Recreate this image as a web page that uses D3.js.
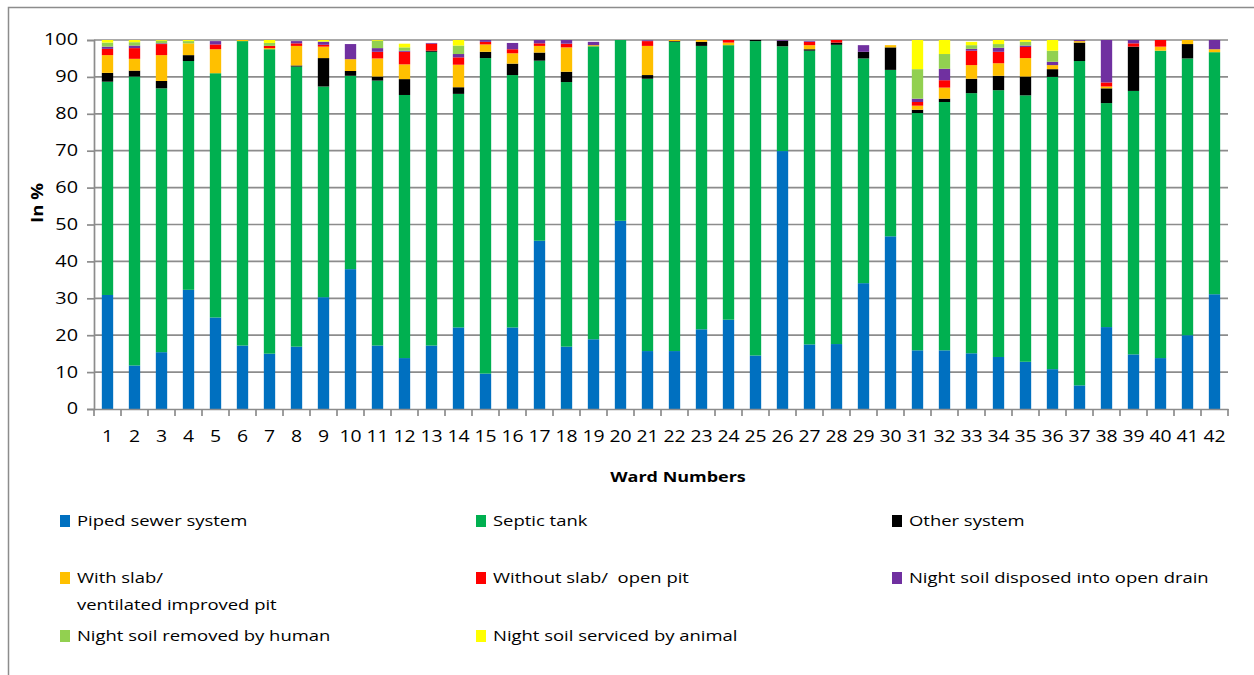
<!DOCTYPE html>
<html>
<head>
<meta charset="utf-8">
<script src="https://cdn.jsdelivr.net/npm/d3@7"></script>
<style>
  body { margin: 0; background: #fff; }
  svg { display: block; }
  text { font-family: "Open Sans", "DejaVu Sans", sans-serif; fill: #000; white-space: pre; }
</style>
</head>
<body>
<svg id="chart" width="1254" height="675"></svg>
<script>
// Ward numbers (x categories)
const wards = ["1","2","3","4","5","6","7","8","9","10","11","12","13","14","15","16","17","18","19","20","21",
               "22","23","24","25","26","27","28","29","30","31","32","33","34","35","36","37","38","39","40","41","42"];

// Share of households by type of latrine / sanitation, in %
const pipedSewer = [30.9,11.8,15.4,32.3,24.8,17.2,15.0,16.9,30.3,37.9,17.2,13.8,17.2,22.1,9.6,22.1,45.6,16.9,18.9,51.0,15.7,
                    15.7,21.6,24.2,14.5,69.9,17.5,17.6,34.1,46.8,15.9,15.9,15.1,14.1,12.8,10.8,6.4,22.2,14.8,13.8,20.0,31.1];
const septicTank = [57.8,78.3,71.5,62.0,66.2,82.5,82.5,75.9,57.1,52.4,71.8,71.3,79.6,63.3,85.5,68.4,48.8,71.7,79.4,49.0,73.8,
                    83.8,76.8,74.4,85.2,28.4,79.6,81.1,60.9,45.1,64.3,67.3,70.5,72.3,72.2,79.2,87.9,60.7,71.4,83.3,75.0,65.6];
const otherSystem = [2.4,1.6,2.0,1.6,0,0,0,0.3,7.7,1.3,1.1,4.3,0.3,1.8,1.7,3.1,2.2,2.8,0,0,1.0,
                     0.2,1.1,0,0.3,1.5,0.4,0.6,1.8,6.1,0.9,0.9,3.9,3.9,5.1,2.1,5.0,4.0,12.0,0,3.9,0];
const withSlab = [4.8,3.2,7.0,3.2,6.5,0.3,0.3,5.3,3.1,3.2,4.9,4.0,0,6.1,2.0,2.8,1.8,6.6,0.3,0,7.9,
                  0.3,0.5,0.7,0,0,1.1,0,0,0.6,1.1,3.0,3.7,3.4,5.0,1.1,0.4,0.5,0,1.1,1.1,0.8];
const openPit = [1.7,2.9,3.0,0,1.3,0,0.6,0.7,0.5,0,1.8,3.4,1.9,2.0,0.7,1.1,0.7,1.0,0,0,1.3,
                 0,0,0.7,0,0,0.9,0.7,0,0,1.0,2.0,3.9,3.1,3.0,0,0,1.1,0.9,1.8,0,0];
const openDrain = [0.6,0.7,0.2,0,0.9,0,0,0.6,0.8,4.1,1.0,0.3,0.2,0.9,0.5,1.7,0.9,1.0,0.9,0,0.2,
                   0,0,0,0,0.2,0.2,0,1.8,0,0.9,3.1,0.5,1.1,0.4,0.9,0.3,11.5,0.9,0,0,2.5];
const removedByHuman = [1.1,0.9,0.7,0.6,0,0,0.8,0,0.1,0,2.0,0.9,0,2.3,0,0,0,0,0,0,0,
                        0,0,0,0,0,0,0,0,0,8.0,4.0,1.0,1.0,1.0,3.0,0,0,0,0,0,0];
const servicedByAnimal = [0.7,0.6,0.2,0.3,0,0,0.8,0,0.4,0,0.2,1.0,0,1.5,0,0,0,0,0,0,0,
                          0,0,0,0,0,0,0,0,0,7.9,3.8,0.9,1.1,0.5,2.9,0,0,0,0,0,0];

const seriesLabels = ["Piped sewer system", "Septic tank", "Other system",
                      "With slab/\nventilated improved pit", "Without slab/  open pit", "Night soil disposed into open drain",
                      "Night soil removed by human", "Night soil serviced by animal"];
const seriesColors = ["#0070C0", "#00B050", "#000000", "#FFC000", "#FF0000", "#7030A0", "#92D050", "#FFFF00"];
const seriesValues = [pipedSewer, septicTank, otherSystem, withSlab, openPit, openDrain, removedByHuman, servicedByAnimal];
const yTicks = [0,10,20,30,40,50,60,70,80,90,100];

// Table for stacking
const keys = seriesLabels.map((_, i) => "s" + i);
const table = wards.map((w, j) => {
  const row = { ward: w };
  keys.forEach((k, i) => row[k] = seriesValues[i][j]);
  return row;
});

const svg = d3.select("#chart");
const plot = { left: 94, right: 1228, top: 40, bottom: 409 };

const x = d3.scaleBand().domain(wards).range([plot.left, plot.right]).paddingInner(0.58).paddingOuter(0.29);
const y = d3.scaleLinear().domain([0, 100]).range([plot.bottom, plot.top]);

// Chart area frame
svg.append("rect").attr("x", 8.5).attr("y", 7.5).attr("width", 1300).attr("height", 720)
  .attr("fill", "none").attr("stroke", "#8c8c8c").attr("stroke-width", 1.5);

// Horizontal gridlines
svg.append("g").selectAll("line").data(yTicks.slice(1)).join("line")
  .attr("x1", plot.left).attr("x2", plot.right)
  .attr("y1", d => y(d)).attr("y2", d => y(d))
  .attr("stroke", "#8c8c8c").attr("stroke-width", 1.7);

// Stretch a text horizontally about its anchor point
function stretch(sel, sx) {
  sel.each(function() {
    const t = d3.select(this);
    const ax = +t.attr("x") || 0;
    t.attr("transform", `translate(${ax},0) scale(${sx},1) translate(${-ax},0)`);
  });
}

// Y axis
const yAxis = svg.append("g").attr("transform", `translate(${plot.left},0)`)
  .call(d3.axisLeft(y).tickValues(yTicks).tickSize(7).tickPadding(9));
yAxis.select(".domain").attr("stroke", "#8c8c8c").attr("stroke-width", 1.7);
yAxis.selectAll(".tick line").attr("stroke", "#8c8c8c").attr("stroke-width", 1.7);
yAxis.selectAll("text").style("font-size", "15.5px").style("font-family", "Open Sans");
stretch(yAxis.selectAll("text"), 1.28);

// Stacked bars
const stacked = d3.stack().keys(keys)(table);
svg.append("g").selectAll("g").data(stacked).join("g")
  .attr("fill", (d, i) => seriesColors[i])
  .selectAll("rect").data(d => d).join("rect")
  .attr("x", d => x(d.data.ward))
  .attr("width", x.bandwidth())
  .attr("y", d => y(d[1]))
  .attr("height", d => y(d[0]) - y(d[1]));

// X axis with boundary ticks between wards
const xAxis = svg.append("g").attr("transform", `translate(0,${plot.bottom})`)
  .call(d3.axisBottom(x).tickSize(0).tickPadding(22));
xAxis.select(".domain").attr("stroke", "#8c8c8c").attr("stroke-width", 1.7);
xAxis.selectAll("text").style("font-size", "15.5px").style("font-family", "Open Sans");
stretch(xAxis.selectAll("text"), 1.25);
const bounds = d3.range(wards.length + 1).map(k => x.range()[0] + k * x.step());
xAxis.append("g").selectAll("line").data(bounds).join("line")
  .attr("x1", d => d).attr("x2", d => d).attr("y1", 0).attr("y2", 7)
  .attr("stroke", "#8c8c8c").attr("stroke-width", 1.7);

// Axis titles
const xTitle = svg.append("text").attr("x", 678).attr("y", 482)
  .attr("text-anchor", "middle").style("font-size", "15px").style("font-weight", "bold")
  .text("Ward Numbers");
stretch(xTitle, 1.2);
svg.append("text").attr("transform", "translate(43,203) rotate(-90) scale(1.2,1)")
  .attr("text-anchor", "middle").style("font-size", "15.5px").style("font-weight", "bold")
  .text("In %");

// Legend: three columns
const colX = [60, 476, 892];
const rowY = [521, 578, 636];
const legend = svg.append("g");
seriesLabels.forEach((lab, i) => {
  const cx = colX[i % 3], cy = rowY[Math.floor(i / 3)];
  legend.append("rect").attr("x", cx).attr("y", cy - 6).attr("width", 10).attr("height", 12)
    .attr("fill", seriesColors[i]);
  lab.split("\n").forEach((line, li) => {
    const t = legend.append("text").attr("x", cx + 17).attr("y", cy + 5 + li * 27)
      .style("font-size", "15px").text(line);
    stretch(t, 1.23);
  });
});
</script>
</body>
</html>
